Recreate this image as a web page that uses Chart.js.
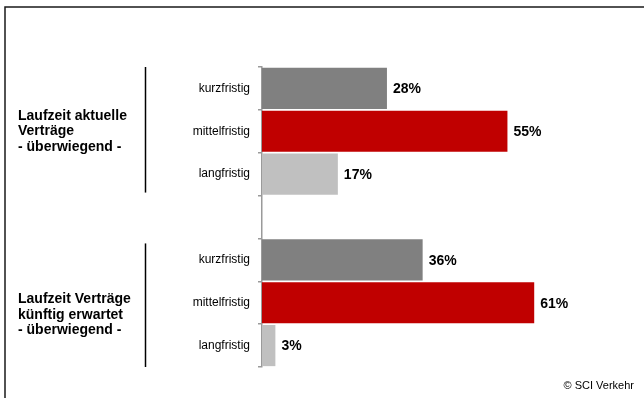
<!DOCTYPE html>
<html>
<head>
<meta charset="utf-8">
<script src="https://cdn.jsdelivr.net/npm/chart.js@4/dist/chart.umd.min.js"></script>
<style>
html,body{margin:0;padding:0;background:#fff;}
#wrap{width:644px;height:398px;position:relative;}
</style>
</head>
<body>
<div id="wrap"><canvas id="c" width="644" height="398"></canvas></div>
<script>
const categories = ["kurzfristig","mittelfristig","langfristig","","kurzfristig","mittelfristig","langfristig"];
const values = [28, 55, 17, null, 36, 61, 3];
const valueLabels = ["28%","55%","17%","","36%","61%","3%"];
const barColors = ["#808080","#C00000","#C0C0C0","#ffffff","#808080","#C00000","#C0C0C0"];
const groupLabels = [
  ["Laufzeit aktuelle","Verträge","- überwiegend -"],
  ["Laufzeit Verträge","künftig erwartet","- überwiegend -"]
];
const groupRanges = [[0,2],[4,6]];
const groupTextOffset = [0, 12];
const sourceText = "© SCI Verkehr";

const FONT = "'Liberation Sans', Arial, sans-serif";

const decor = {
  id: 'decor',
  afterDatasetsDraw(chart) {
    const ctx = chart.ctx;
    const y = chart.scales.y;
    const meta = chart.getDatasetMeta(0);
    ctx.save();
    // frame
    ctx.strokeStyle = '#1a1a1a';
    ctx.lineWidth = 1.5;
    ctx.beginPath();
    ctx.moveTo(5, 398);
    ctx.lineTo(5, 7);
    ctx.lineTo(644, 7);
    ctx.stroke();
    // value labels
    ctx.fillStyle = '#000';
    ctx.font = 'bold 14px ' + FONT;
    ctx.textAlign = 'left';
    ctx.textBaseline = 'middle';
    meta.data.forEach((bar, i) => {
      if (values[i] == null) return;
      ctx.fillText(valueLabels[i], bar.x + 6, bar.y + 1);
    });
    // group labels & separators
    groupRanges.forEach((r, g) => {
      const half = (y.getPixelForValue(1) - y.getPixelForValue(0)) / 2;
      const top = y.getPixelForValue(r[0]) - half;
      const bot = y.getPixelForValue(r[1]) + half;
      ctx.strokeStyle = '#000';
      ctx.lineWidth = 1.5;
      ctx.beginPath();
      ctx.moveTo(145.5, top + (g === 0 ? 0 : 5));
      ctx.lineTo(145.5, bot - (g === 0 ? 3 : 0));
      ctx.stroke();
      const mid = y.getPixelForValue((r[0] + r[1]) / 2) + groupTextOffset[g];
      ctx.font = 'bold 14px ' + FONT;
      ctx.textAlign = 'left';
      ctx.textBaseline = 'middle';
      groupLabels[g].forEach((t, k) => {
        ctx.fillText(t, 18, mid + (k - 1) * 15.5);
      });
    });
    // source
    ctx.font = '11px ' + FONT;
    ctx.textAlign = 'right';
    ctx.textBaseline = 'alphabetic';
    ctx.fillText(sourceText, 634, 389);
    ctx.restore();
  }
};

new Chart(document.getElementById('c'), {
  type: 'bar',
  data: {
    labels: categories,
    datasets: [{
      data: values,
      backgroundColor: barColors,
      borderWidth: 0,
      barPercentage: 0.96,
      categoryPercentage: 1.0
    }]
  },
  options: {
    indexAxis: 'y',
    responsive: false,
    animation: false,
    events: [],
    layout: { padding: { top: 67, bottom: 31, left: 0, right: 25 } },
    plugins: { legend: { display: false }, tooltip: { enabled: false } },
    scales: {
      x: { display: false, min: 0, max: 80 },
      y: {
        afterFit(scale) { scale.width = 262; },
        grid: { display: true, drawOnChartArea: false, drawTicks: true, tickLength: 4, offset: true, color: '#9a9a9a', lineWidth: 1.5 },
        border: { display: true, color: '#9a9a9a', width: 1.5 },
        ticks: { color: '#000', font: { family: FONT, size: 12 }, padding: 8, autoSkip: false }
      }
    }
  },
  plugins: [decor]
});
</script>
</body>
</html>
